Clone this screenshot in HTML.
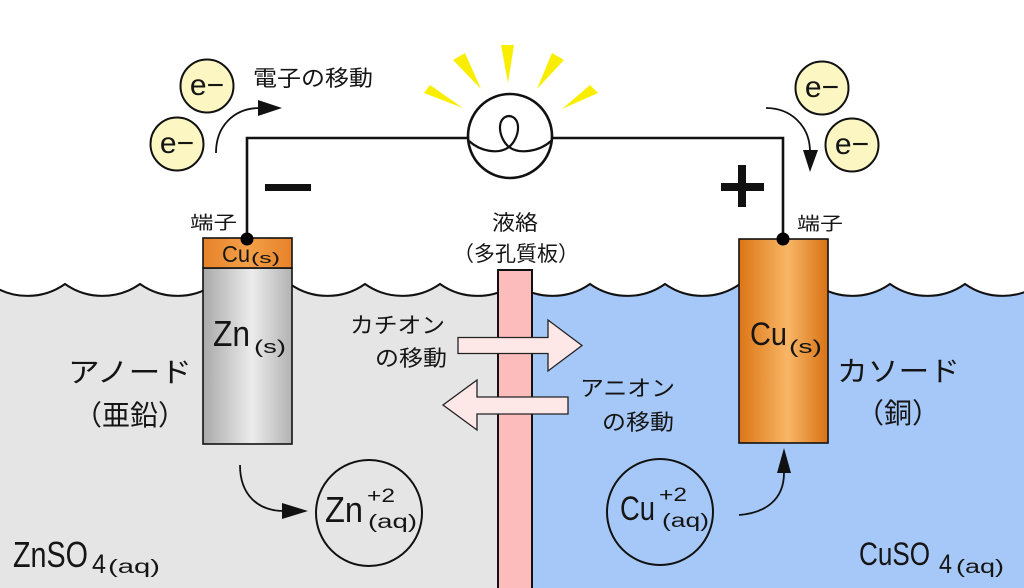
<!DOCTYPE html>
<html><head><meta charset="utf-8">
<style>
html,body{margin:0;padding:0;background:#fff;}
svg{display:block;}
text{font-family:"Liberation Sans","Noto Sans CJK JP",sans-serif;fill:#151515;}
.j{font-family:"Liberation Sans","Noto Sans CJK JP",sans-serif;}
</style></head><body>
<svg width="1024" height="588" viewBox="0 0 1024 588" xmlns="http://www.w3.org/2000/svg">
<defs>
<clipPath id="cl"><rect x="0" y="0" width="515" height="588"/></clipPath>
<clipPath id="cr"><rect x="515" y="0" width="509" height="588"/></clipPath>
<linearGradient id="gz" x1="0" x2="1" y1="0" y2="0">
 <stop offset="0" stop-color="#a9a9a9"/><stop offset="0.55" stop-color="#ececec"/><stop offset="1" stop-color="#b2b2b2"/>
</linearGradient>
<linearGradient id="gc" x1="0" x2="1" y1="0" y2="0">
 <stop offset="0" stop-color="#dc7515"/><stop offset="0.55" stop-color="#f8b666"/><stop offset="1" stop-color="#d87214"/>
</linearGradient>
<linearGradient id="gcap" x1="0" x2="1" y1="0" y2="0">
 <stop offset="0" stop-color="#e7822a"/><stop offset="0.5" stop-color="#f3a048"/><stop offset="1" stop-color="#e7822a"/>
</linearGradient>
</defs>

<rect width="1024" height="588" fill="#fff"/>

<!-- solutions with wavy surface -->
<g clip-path="url(#cl)">
<path d="M-10,284 A65,65 0 0 0 65,284 A65,65 0 0 0 140,284 A65,65 0 0 0 215,284 A65,65 0 0 0 290,284 A65,65 0 0 0 365,284 A65,65 0 0 0 440,284 A65,65 0 0 0 515,284 A65,65 0 0 0 590,284 A65,65 0 0 0 665,284 A65,65 0 0 0 740,284 A65,65 0 0 0 815,284 A65,65 0 0 0 890,284 A65,65 0 0 0 965,284 A65,65 0 0 0 1040,284 L1040,600 L-10,600 Z" fill="#e5e5e5" stroke="#111" stroke-width="2"/>
</g>
<g clip-path="url(#cr)">
<path d="M-10,284 A65,65 0 0 0 65,284 A65,65 0 0 0 140,284 A65,65 0 0 0 215,284 A65,65 0 0 0 290,284 A65,65 0 0 0 365,284 A65,65 0 0 0 440,284 A65,65 0 0 0 515,284 A65,65 0 0 0 590,284 A65,65 0 0 0 665,284 A65,65 0 0 0 740,284 A65,65 0 0 0 815,284 A65,65 0 0 0 890,284 A65,65 0 0 0 965,284 A65,65 0 0 0 1040,284 L1040,600 L-10,600 Z" fill="#a6c8f8" stroke="#111" stroke-width="2"/>
</g>

<!-- membrane -->
<rect x="498" y="270" width="34" height="330" fill="#fdbcbc" stroke="#111" stroke-width="2"/>

<!-- block arrows -->
<polygon points="458,337.5 548,337.5 548,320 582,345.5 548,371 548,353.5 458,353.5" fill="#fde7e7" stroke="#222" stroke-width="1.3"/>
<polygon points="568,397 477,397 477,380 443,405 477,430 477,414 568,414" fill="#fde7e7" stroke="#222" stroke-width="1.3"/>

<!-- wires -->
<polyline points="247,239 247,138 468,138" fill="none" stroke="#111" stroke-width="2.6"/>
<polyline points="552,138 783,138 783,239" fill="none" stroke="#111" stroke-width="2.6"/>

<!-- rays -->
<g fill="#f9ee00">
<polygon points="424,93 430,85 463,108"/>
<polygon points="453,60 465,53 481,89"/>
<polygon points="501,45 514,45 508,83"/>
<polygon points="552,53 564,60 537,89"/>
<polygon points="590,85 598,93 562,109"/>
</g>

<!-- bulb -->
<circle cx="510" cy="136" r="42" fill="#fff" stroke="#111" stroke-width="2.6"/>
<path d="M469,141 C480,151 498,155 509,147 C520,138 522,117 509,116 C496,117 498,138 509,147 C520,155 540,151 551,141" fill="none" stroke="#111" stroke-width="2.2"/>

<!-- electrodes -->
<rect x="203" y="268" width="89" height="176" fill="url(#gz)" stroke="#111" stroke-width="1.6"/>
<rect x="203" y="238" width="89" height="30" fill="url(#gcap)" stroke="#111" stroke-width="1.6"/>
<rect x="739" y="239" width="89" height="204" fill="url(#gc)" stroke="#111" stroke-width="1.6"/>

<circle cx="247" cy="239" r="6.5" fill="#000"/>
<circle cx="783" cy="239" r="6.5" fill="#000"/>

<!-- minus / plus -->
<rect x="265" y="184" width="46" height="7" fill="#111"/>
<rect x="721" y="183" width="43" height="8" fill="#111"/>
<rect x="738" y="165" width="8" height="42" fill="#111"/>

<!-- electrons -->
<g fill="#fcf7c2" stroke="#111" stroke-width="2">
<circle cx="207" cy="86" r="26.5"/>
<circle cx="177" cy="144" r="26.5"/>
<circle cx="822" cy="88" r="26.5"/>
<circle cx="852" cy="145" r="26.5"/>
</g>
<g font-size="30" text-anchor="middle">
<text x="207" y="95">e−</text>
<text x="177" y="153">e−</text>
<text x="822" y="97">e−</text>
<text x="852" y="154">e−</text>
</g>

<!-- curved arrows -->
<g fill="none" stroke="#111" stroke-width="1.8">
<path d="M216,153 C216,125 235,108 260,108"/>
<path d="M766,108 C790,108 810,125 810,152"/>
<path d="M240,465 C240,495 258,511 284,511"/>
<path d="M739,515 C765,513 784,500 784,473"/>
</g>
<g fill="#111">
<polygon points="258,100 282,108 258,116"/>
<polygon points="803,150 818,150 810,172"/>
<polygon points="282,503 308,511 282,519"/>
<polygon points="777,473 791,473 784,448"/>
</g>

<!-- ion circles -->
<circle cx="369" cy="513" r="53" fill="none" stroke="#111" stroke-width="2"/>
<circle cx="660" cy="512" r="53" fill="none" stroke="#111" stroke-width="2"/>

<!-- labels -->
<text x="253" y="86" font-size="22" textLength="120" lengthAdjust="spacingAndGlyphs">電子の移動</text>
<text x="190" y="229" font-size="18" textLength="47" lengthAdjust="spacingAndGlyphs">端子</text>
<text x="797" y="230" font-size="18" textLength="46" lengthAdjust="spacingAndGlyphs">端子</text>
<text x="492" y="230" font-size="21" textLength="46" lengthAdjust="spacingAndGlyphs">液絡</text>
<text x="516" y="261" font-size="21" text-anchor="middle">（多孔質板）</text>

<text x="222" y="262" font-size="23" textLength="28" lengthAdjust="spacingAndGlyphs">Cu</text>
<text x="251" y="263" font-size="15" textLength="29" lengthAdjust="spacingAndGlyphs">(s)</text>

<text x="213" y="346" font-size="36" textLength="37" lengthAdjust="spacingAndGlyphs">Zn</text>
<text x="254" y="353" font-size="18" textLength="32" lengthAdjust="spacingAndGlyphs">(s)</text>

<text x="750" y="345" font-size="32" textLength="37" lengthAdjust="spacingAndGlyphs">Cu</text>
<text x="789" y="353" font-size="18" textLength="33" lengthAdjust="spacingAndGlyphs">(s)</text>

<text x="68" y="382" font-size="28" textLength="124" lengthAdjust="spacingAndGlyphs">アノード</text>
<text x="130" y="425" font-size="28" text-anchor="middle">（亜鉛）</text>
<text x="837" y="381" font-size="28" textLength="123" lengthAdjust="spacingAndGlyphs">カソード</text>
<text x="898" y="423" font-size="28" text-anchor="middle">（銅）</text>

<text x="350" y="333" font-size="22" textLength="95" lengthAdjust="spacingAndGlyphs">カチオン</text>
<text x="375" y="366" font-size="22" textLength="72" lengthAdjust="spacingAndGlyphs">の移動</text>
<text x="580" y="396" font-size="22" textLength="95" lengthAdjust="spacingAndGlyphs">アニオン</text>
<text x="602" y="430" font-size="22" textLength="72" lengthAdjust="spacingAndGlyphs">の移動</text>

<text x="325" y="522" font-size="36" textLength="38" lengthAdjust="spacingAndGlyphs">Zn</text>
<text x="367" y="502" font-size="19" textLength="28" lengthAdjust="spacingAndGlyphs">+2</text>
<text x="368" y="528" font-size="19" textLength="49" lengthAdjust="spacingAndGlyphs">(aq)</text>

<text x="620" y="520" font-size="34" textLength="35" lengthAdjust="spacingAndGlyphs">Cu</text>
<text x="659" y="501" font-size="19" textLength="28" lengthAdjust="spacingAndGlyphs">+2</text>
<text x="662" y="527" font-size="19" textLength="47" lengthAdjust="spacingAndGlyphs">(aq)</text>

<text x="13" y="567" font-size="36" textLength="75" lengthAdjust="spacingAndGlyphs">ZnSO</text>
<text x="92" y="573" font-size="27" textLength="14" lengthAdjust="spacingAndGlyphs">4</text>
<text x="108" y="573" font-size="19" textLength="52" lengthAdjust="spacingAndGlyphs">(aq)</text>

<text x="859" y="565" font-size="32" textLength="71" lengthAdjust="spacingAndGlyphs">CuSO</text>
<text x="939" y="573" font-size="27" textLength="13" lengthAdjust="spacingAndGlyphs">4</text>
<text x="956" y="573" font-size="19" textLength="48" lengthAdjust="spacingAndGlyphs">(aq)</text>
</svg>
</body></html>
